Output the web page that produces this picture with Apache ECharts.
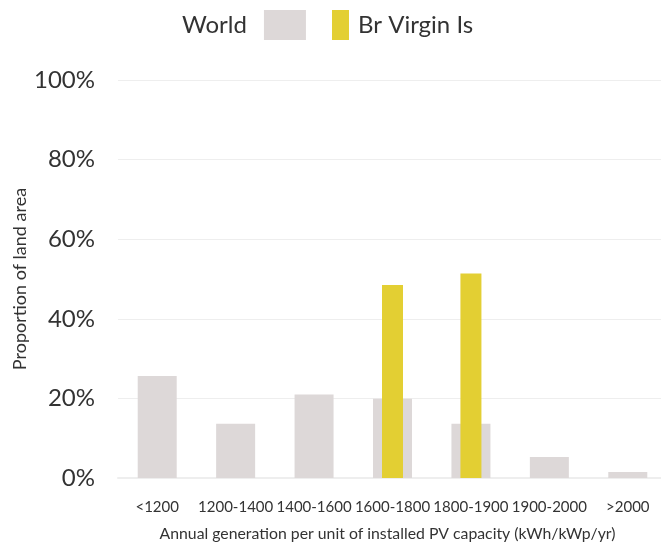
<!DOCTYPE html>
<html>
<head>
<meta charset="utf-8">
<script src="https://cdn.jsdelivr.net/npm/echarts@6/dist/echarts.min.js"></script>
<style>
  html, body { margin: 0; padding: 0; background: #fff; }
  #main { width: 661px; height: 546px; }
</style>
</head>
<body>
<div id="main"></div>
<script>
var categories = ['<1200', '1200-1400', '1400-1600', '1600-1800', '1800-1900', '1900-2000', '>2000'];
var worldValues = [25.6, 13.6, 21.0, 19.9, 13.6, 5.3, 1.5];
var bviValues = [0, 0, 0, 48.5, 51.4, 0, 0];
var yTicks = [0, 20, 40, 60, 80, 100];

var font = 'Lato';
var textColor = '#333';
var myChart = echarts.init(document.getElementById('main'));
var option = {
    animation: false,
    textStyle: { fontFamily: font },
    legend: [
        {
            data: ['World'],
            left: 177, top: 5,
            align: 'right',
            icon: 'rect',
            itemWidth: 42, itemHeight: 30,
            textStyle: { fontSize: 24, color: textColor, fontFamily: font, padding: [0, 12, 0, 0] }
        },
        {
            data: ['Br Virgin Is'],
            left: 327, top: 5,
            align: 'left',
            icon: 'rect',
            itemWidth: 17, itemHeight: 30,
            textStyle: { fontSize: 24, color: textColor, fontFamily: font, padding: [0, 0, 0, 4] }
        }
    ],
    grid: { left: 118, right: -6, top: 80, bottom: 68, outerBoundsMode: 'none', containLabel: false },
    xAxis: [
        {
            type: 'category',
            data: categories,
            axisTick: { show: false },
            axisLine: { lineStyle: { color: '#eeeeee', width: 2 } },
            axisLabel: { fontSize: 15, color: textColor, margin: 22, interval: 0 },
            name: 'Annual generation per unit of installed PV capacity (kWh/kWp/yr)',
            nameLocation: 'middle',
            nameGap: 48,
            nameMoveOverlap: false,
            nameTextStyle: { fontSize: 15.8, color: textColor, padding: [0, 10, 0, 0] }
        },
        {
            type: 'category',
            data: categories,
            position: 'bottom',
            show: false
        }
    ],
    yAxis: {
        type: 'value',
        min: yTicks[0],
        max: yTicks[yTicks.length - 1],
        interval: 20,
        axisLabel: { fontSize: 24, color: textColor, margin: 23, formatter: '{value}%' },
        splitLine: { lineStyle: { color: '#eeeeee', width: 1 } },
        axisLine: { show: false },
        axisTick: { show: false },
        name: 'Proportion of land area',
        nameLocation: 'middle',
        nameGap: 89,
        nameMoveOverlap: false,
        nameTextStyle: { fontSize: 18, color: textColor }
    },
    series: [
        {
            name: 'World',
            type: 'bar',
            xAxisIndex: 0,
            data: worldValues,
            barWidth: 39,
            itemStyle: { color: '#ddd8d8' }
        },
        {
            name: 'Br Virgin Is',
            type: 'bar',
            xAxisIndex: 1,
            data: bviValues,
            barWidth: 21,
            itemStyle: { color: '#e3cf33' }
        }
    ]
};
myChart.setOption(option);
</script>
</body>
</html>
